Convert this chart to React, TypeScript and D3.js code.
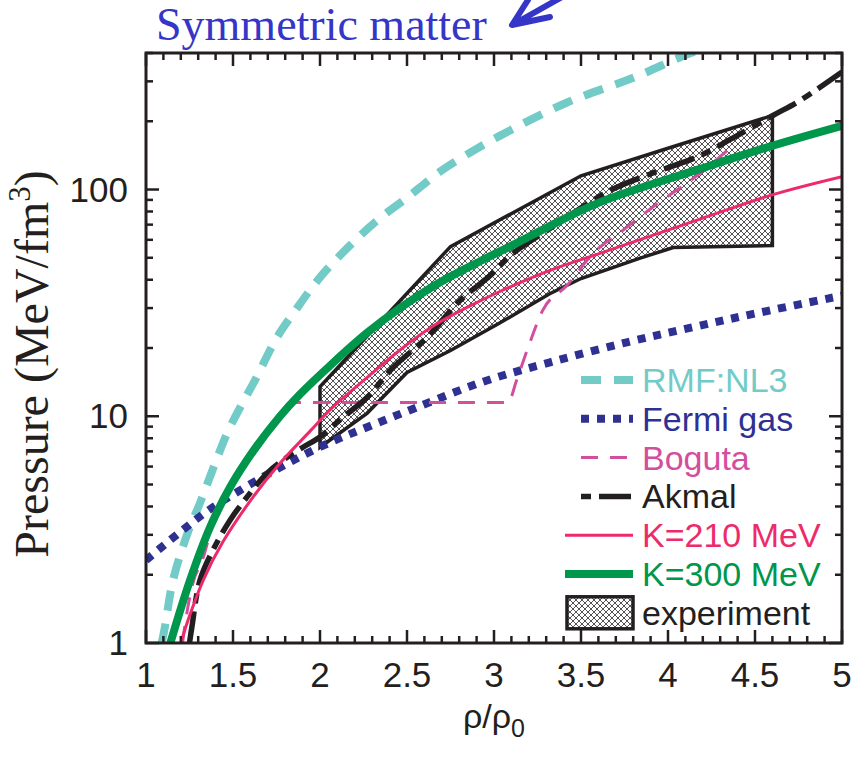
import React from 'react';
import * as d3 from 'd3';

// pressure vs density, symmetric nuclear matter
const xTicks = [1, 1.5, 2, 2.5, 3, 3.5, 4, 4.5, 5];
const yTicks = [1, 10, 100];
const yTickLabels = ['1', '10', '100'];

const rmfNL3: [number, number][] = [
  [1.09, 1.0], [1.109, 1.18], [1.155, 1.89], [1.241, 3.08], [1.31, 4.14], [1.397, 6.2],
  [1.466, 8.4], [1.54, 10.9], [1.626, 14.4], [1.753, 22.3], [1.868, 30], [2.0, 41],
  [2.155, 55], [2.328, 73], [2.5, 92], [2.69, 120], [2.86, 145], [3.03, 172],
  [3.42, 242], [3.8, 311], [4.13, 400], [4.3, 440],
];
const fermiGas: [number, number][] = [
  [1, 2.32], [1.195, 3.08], [1.368, 3.89], [1.552, 4.77], [1.73, 5.72], [1.902, 6.73],
  [2.086, 7.84], [2.27, 8.94], [2.557, 10.95], [2.937, 14.2], [3.322, 17.3], [3.764, 21.2],
  [4.144, 24.7], [4.529, 28.7], [5, 34],
];
const boguta: [number, number][] = [
  [1.21, 1.0], [1.224, 1.2], [1.27, 1.84], [1.328, 2.37], [1.385, 3.38], [1.5, 5.0],
  [1.6, 6.7], [1.7, 8.6], [1.8, 10.8], [1.85, 11.5], [3.08, 11.5], [3.13, 14.4],
  [3.19, 19.5], [3.28, 29.3], [3.42, 37.8], [3.57, 52.3], [3.74, 66], [3.94, 86.8],
  [4.13, 109.6], [4.34, 148.6],
];
const akmal: [number, number][] = [
  [1.25, 1.0], [1.264, 1.18], [1.31, 1.89], [1.385, 2.57], [1.483, 3.48], [1.58, 4.4],
  [1.695, 5.6], [1.787, 6.4], [1.902, 7.3], [2.0, 8.1], [2.132, 9.9], [2.27, 12.1],
  [2.42, 16.4], [2.615, 22.3], [2.805, 32.4], [2.977, 41.7], [3.109, 52.3], [3.305, 66],
  [3.667, 99], [3.897, 117], [4.184, 141], [4.374, 169], [4.603, 212], [4.759, 247], [5, 330],
];
const k210: [number, number][] = [
  [1.2, 1.0], [1.24, 1.25], [1.33, 1.9], [1.443, 2.8], [1.615, 4.4], [1.77, 6.2],
  [1.943, 8.6], [2.075, 11.0], [2.27, 14.8], [2.46, 19.6], [2.65, 25.0], [2.845, 30.2],
  [3.034, 35.5], [3.322, 44], [3.609, 52.3], [4.184, 74], [4.603, 95], [5, 114],
];
const k300: [number, number][] = [
  [1.14, 1.0], [1.253, 1.89], [1.368, 3.24], [1.483, 4.86], [1.615, 7.0], [1.77, 10.0],
  [1.885, 12.5], [2.075, 17.2], [2.27, 23.3], [2.46, 30], [2.69, 39], [2.937, 49],
  [3.13, 58], [3.32, 69], [3.61, 88], [4.18, 123], [4.6, 156], [5, 191],
];
const expUpper: [number, number][] = [[2, 13.5], [2.75, 56], [3.5, 115], [4.0, 152], [4.6, 212]];
const expLower: [number, number][] = [
  [2, 7.3], [2.27, 10.3], [2.5, 15.6], [2.75, 19.5], [3.03, 25.7], [3.32, 34.7],
  [3.5, 40.5], [3.84, 49.8], [4.03, 55.5], [4.6, 56.6],
];

const series = [
  { name: 'RMF:NL3', data: rmfNL3, color: '#72cbc7', width: 8, dash: '20 13', smooth: true },
  { name: 'Fermi gas', data: fermiGas, color: '#2e3192', width: 8, dash: '8 8', smooth: true },
  { name: 'Boguta', data: boguta, color: '#d24f9e', width: 3, dash: '17 12', smooth: false },
  { name: 'Akmal', data: akmal, color: '#231f20', width: 5.5, dash: '32 8 10 8', smooth: true },
  { name: 'K=210 MeV', data: k210, color: '#ed2b6b', width: 3, dash: '', smooth: true },
  { name: 'K=300 MeV', data: k300, color: '#00964b', width: 8, dash: '', smooth: true },
];

const W = 855;
const H = 760;
const left = 146, right = 842, top = 53, bottom = 643;

export default function App() {
  const x = d3.scaleLinear().domain([1, 5]).range([left, right]);
  const y = d3.scaleLog().domain([1, 400]).range([bottom, top]);
  const smoothLine = d3.line<[number, number]>()
    .x(d => x(d[0]))
    .y(d => y(d[1]))
    .curve(d3.curveCatmullRom.alpha(0.5));
  const kinkLine = d3.line<[number, number]>()
    .x(d => x(d[0]))
    .y(d => y(d[1]))
    .curve(d3.curveMonotoneX);

  const polygon = [...expUpper, ...expLower.slice().reverse()];
  const polyPath = 'M' + polygon.map(d => `${x(d[0])},${y(d[1])}`).join('L') + 'Z';

  const xMinor = d3.range(10, 51).map(v => v / 10).filter(v => Math.round(v * 10) % 5 !== 0);
  const yMinor: number[] = [];
  [1, 10, 100].forEach(dec => d3.range(2, 10).forEach(m => { if (m * dec <= 400) yMinor.push(m * dec); }));

  const major = 13, minor = 7;
  const legendY0 = 380, legendStep = 38.8;
  const sans = '"Liberation Sans", Arial, sans-serif';
  const serif = '"Liberation Serif", "Times New Roman", serif';

  return (
    <svg width={W} height={H} style={{ position: 'absolute', left: 0, top: 0 }}>
      <defs>
        <clipPath id="plot">
          <rect x={left} y={top} width={right - left} height={bottom - top} />
        </clipPath>
        <pattern id="hatch" width={6} height={6} patternUnits="userSpaceOnUse">
          <rect width={6} height={6} fill="white" />
          <path d="M0,0L6,6M6,0L0,6" stroke="#2a2627" strokeWidth={0.8} />
        </pattern>
      </defs>
      <rect width={W} height={H} fill="white" />

      <text x={156} y={40} fontFamily={serif} fontSize={46} fill="#3535c8">Symmetric matter</text>
      <path d="M562,-3L514,24M528,0L512,25L550,17" fill="none" stroke="#3535c8" strokeWidth={6}
        strokeLinecap="round" strokeLinejoin="round" />

      <g clipPath="url(#plot)">
        <path d={polyPath} fill="url(#hatch)" stroke="#231f20" strokeWidth={3.5} strokeLinejoin="miter" />
        {series.map(s => (
          <path key={s.name} d={(s.smooth ? smoothLine : kinkLine)(s.data) ?? ''} fill="none" stroke={s.color}
            strokeWidth={s.width} strokeDasharray={s.dash || undefined} />
        ))}
      </g>

      {/* ticks */}
      <g stroke="#231f20" strokeWidth={2.5}>
        {xTicks.map(t => (
          <g key={'xt' + t}>
            <line x1={x(t)} x2={x(t)} y1={bottom} y2={bottom - major} />
            <line x1={x(t)} x2={x(t)} y1={top} y2={top + major} />
          </g>
        ))}
        {xMinor.map(t => (
          <g key={'xm' + t}>
            <line x1={x(t)} x2={x(t)} y1={bottom} y2={bottom - minor} />
            <line x1={x(t)} x2={x(t)} y1={top} y2={top + minor} />
          </g>
        ))}
        {yTicks.map(t => (
          <g key={'yt' + t}>
            <line x1={left} x2={left + major} y1={y(t)} y2={y(t)} />
            <line x1={right} x2={right - major} y1={y(t)} y2={y(t)} />
          </g>
        ))}
        {yMinor.map(t => (
          <g key={'ym' + t}>
            <line x1={left} x2={left + minor} y1={y(t)} y2={y(t)} />
            <line x1={right} x2={right - minor} y1={y(t)} y2={y(t)} />
          </g>
        ))}
      </g>
      <rect x={left} y={top} width={right - left} height={bottom - top} fill="none" stroke="#231f20" strokeWidth={3} />

      {xTicks.map(t => (
        <text key={'xl' + t} x={x(t)} y={687} textAnchor="middle" fontFamily={sans} fontSize={35} fill="#231f20">{t}</text>
      ))}
      {yTicks.map((t, i) => (
        <text key={'yl' + t} x={128} y={y(t) + 12} textAnchor="end" fontFamily={sans} fontSize={35} fill="#231f20">{yTickLabels[i]}</text>
      ))}

      <text x={494} y={728} textAnchor="middle" fontFamily={sans} fontSize={34} fill="#231f20">
        ρ/ρ<tspan dy={9} fontSize={25}>0</tspan>
      </text>
      <text transform={`translate(48,364) rotate(-90)`} textAnchor="middle" fontFamily={serif} fontSize={48} fill="#231f20">
        Pressure (MeV/fm<tspan dy={-18} fontSize={31}>3</tspan><tspan dy={18}>)</tspan>
      </text>

      {/* legend */}
      {series.map((s, i) => {
        const cy = legendY0 + i * legendStep;
        const isAkmal = s.name === 'Akmal';
        return (
          <g key={'lg' + s.name}>
            <line x1={s.dash ? 581 : 565} x2={633} y1={cy} y2={cy} stroke={s.color} strokeWidth={s.width}
              strokeDasharray={s.dash || undefined} strokeDashoffset={isAkmal ? 40 : 0} />
            <text x={642} y={cy + 12} fontFamily={sans} fontSize={34} fill={s.color}>{s.name}</text>
          </g>
        );
      })}
      <rect x={567} y={legendY0 + 6 * legendStep - 16} width={66} height={32} fill="url(#hatch)" stroke="#231f20" strokeWidth={3.5} />
      <text x={642} y={legendY0 + 6 * legendStep + 12} fontFamily={sans} fontSize={34} fill="#231f20">experiment</text>
    </svg>
  );
}
